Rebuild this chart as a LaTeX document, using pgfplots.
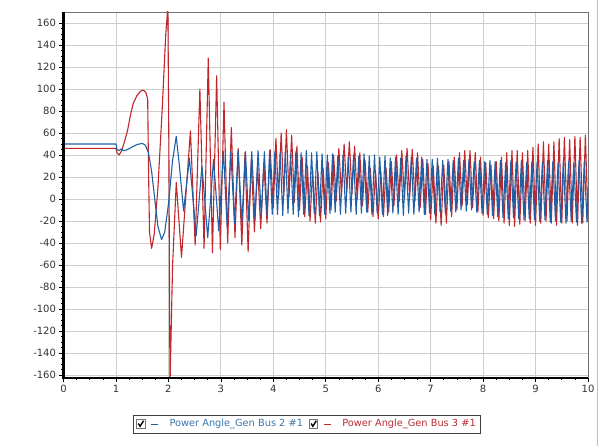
\documentclass[border=0pt]{standalone}
\usepackage{pgfplots}
\pgfplotsset{compat=1.18}
\usepackage{fontspec}
\setmainfont{DejaVu Sans}
\definecolor{bl}{RGB}{31,95,165}
\definecolor{rd}{RGB}{192,38,42}
\definecolor{bltxt}{RGB}{60,118,175}
\definecolor{rdtxt}{RGB}{185,45,50}
\definecolor{gridc}{RGB}{205,205,205}
\begin{document}
\begin{tikzpicture}
\path[use as bounding box] (-63.5pt,-68.3pt) rectangle (541.5pt,377.7pt);
\begin{axis}[
 at={(0,0)}, anchor=south west,
 scale only axis, width=524.5pt, height=365.7pt,
 xmin=0, xmax=10, ymin=-162.5, ymax=170,
 xtick={0,1,...,10}, ytick={-160,-140,...,160},
 minor x tick num=3, minor y tick num=3,
 grid=major, major grid style={gridc, line width=0.8pt},
 axis line style={black!55, line width=0.8pt},
 tick align=outside, major tick length=4pt, minor tick length=2.2pt,
 tick style={black, line width=0.6pt},
 xtick pos=left, ytick pos=left,
 ticklabel style={font=\fontsize{10}{11}\selectfont, color=black!80},
 /pgf/number format/assume math mode=true,
 legend columns=2,
 legend cell align=left,
 legend style={at={(0.4643,-0.1265)}, anchor=center, draw=black!75, line width=0.8pt, fill=white,
   font=\fontsize{9.8}{11}\selectfont, inner xsep=3pt, inner ysep=2.5pt,
   /tikz/every even column/.append style={column sep=4pt}},
 legend image code/.code={
   \path[draw=none, fill=none] (0pt,-4.5pt) rectangle (31pt,4.5pt);
   \draw[black!55, line width=0.6pt, fill=white] (0pt,-4.2pt) rectangle (8.4pt,4.2pt);
   \draw[black, line width=1.4pt] (1.8pt,0.4pt) -- (3.5pt,-2.3pt) -- (7pt,3.2pt);
   \draw[#1, line width=0.8pt] (14.5pt,0pt) -- (21.5pt,0pt);
 },
]
\addlegendimage{bl}
\addlegendentry{\textcolor{bltxt}{Power Angle\_Gen Bus 2 \#1}}
\addlegendimage{rd}
\addlegendentry{\textcolor{rdtxt}{Power Angle\_Gen Bus 3 \#1}}

% Power Angle_Gen Bus 3 #1
\addplot[rd, line width=1.1pt, line join=round, forget plot] coordinates {
(0,46) (1.0,46) (1.02,42) (1.06,40) (1.1,43) (1.15,50) (1.22,62) (1.28,77) (1.33,87)
(1.4,94) (1.47,98) (1.52,99) (1.57,97) (1.605,91) (1.62,30) (1.64,-30) (1.68,-45)
(1.73,-32) (1.8,10) (1.88,80) (1.95,150) (1.99,175) (2.01,40) (2.03,-170) (2.08,-60)
(2.15,15) (2.25,-53) (2.42,62) (2.51,-42) (2.6,100) (2.68,-45) (2.76,128) (2.84,-49)
(2.92,112) (2.99,-46) (3.06,88) (3.13,-40) (3.2,65) (3.27,-35) (3.33,46) (3.4,-42)
(3.46,42) (3.52,-48) (3.58,36) (3.64,-30) (3.7,30) (3.76,-27) (3.82,33) (3.88,-22)
(3.94,45) (4.0,-8) (4.05,55) (4.1,0) (4.15,60) (4.2,3) (4.25,63) (4.3,2) (4.35,58)
(4.4,-3) (4.45,48) (4.5,-10) (4.55,38) (4.6,-16) (4.65,30) (4.7,-20) (4.75,27)
(4.8,-22) (4.85,25) (4.9,-21) (4.95,28) (5.0,-18) (5.05,33) (5.1,-10) (5.15,40)
(5.2,-2) (5.25,46) (5.3,3) (5.35,50) (5.4,6) (5.45,52) (5.5,5) (5.55,48) (5.6,0)
(5.65,42) (5.7,-6) (5.75,35) (5.8,-12) (5.85,28) (5.9,-16) (5.95,25) (6.0,-18)
(6.05,25) (6.1,-16) (6.15,28) (6.2,-12) (6.25,34) (6.3,-6) (6.35,40) (6.4,-2)
(6.45,44) (6.5,0) (6.55,46) (6.6,2) (6.65,45) (6.7,-2) (6.75,42) (6.8,-8) (6.85,36)
(6.9,-14) (6.95,32) (7.0,-19) (7.05,30) (7.1,-22) (7.15,30) (7.2,-24) (7.25,31)
(7.3,-22) (7.35,34) (7.4,-16) (7.45,38) (7.5,-10) (7.55,42) (7.6,-6) (7.65,44)
(7.7,-5) (7.75,44) (7.8,-8) (7.85,42) (7.9,-12) (7.95,38) (8.0,-15) (8.05,33)
(8.1,-17) (8.15,31) (8.2,-18) (8.25,34) (8.3,-20) (8.35,38) (8.4,-22) (8.45,42)
(8.5,-24) (8.55,44) (8.6,-25) (8.65,44) (8.7,-23) (8.75,42) (8.8,-20) (8.85,44)
(8.9,-22) (8.95,47) (9.0,-24) (9.05,50) (9.1,-22) (9.15,52) (9.2,-20) (9.25,50)
(9.3,-22) (9.35,52) (9.4,-24) (9.45,55) (9.5,-22) (9.55,56) (9.6,-20) (9.65,54)
(9.7,-22) (9.75,57) (9.8,-24) (9.85,56) (9.9,-22) (9.95,58) (10.0,-20)
};

% Power Angle_Gen Bus 2 #1
\addplot[bl, line width=1.1pt, line join=round, forget plot] coordinates {
(0,50) (1.0,50) (1.02,45) (1.06,44) (1.1,45.5) (1.14,44) (1.2,44.5) (1.3,47) (1.4,49.5)
(1.5,50.5) (1.56,49) (1.62,42) (1.68,25) (1.74,0) (1.8,-25) (1.87,-37) (1.93,-30)
(2.0,-5) (2.08,35) (2.15,57) (2.21,30) (2.29,-11) (2.4,37) (2.53,-33) (2.64,30)
(2.75,-35) (2.86,36) (2.96,-29) (3.05,43) (3.12,-25) (3.19,43) (3.26,-22) (3.33,44)
(3.4,-22) (3.47,43) (3.53,-20) (3.59,43) (3.65,-18) (3.71,44) (3.77,-16) (3.83,43)
(3.88,-15) (3.93,44) (3.98,-14)
(4.03,43) (4.08,-14) (4.13,42) (4.18,-15) (4.23,44) (4.28,-13) (4.33,41) (4.38,-14)
(4.43,43) (4.48,-16) (4.53,42) (4.58,-14) (4.63,44) (4.68,-15) (4.73,42) (4.78,-13)
(4.83,43) (4.88,-15) (4.93,41) (4.98,-14) (5.03,40) (5.08,-13) (5.13,41) (5.18,-12)
(5.23,39) (5.28,-14) (5.33,40) (5.38,-13) (5.43,38) (5.48,-12) (5.53,40) (5.58,-14)
(5.63,39) (5.68,-13) (5.73,41) (5.78,-12) (5.83,39) (5.88,-14) (5.93,40) (5.98,-13)
(6.03,38) (6.08,-14) (6.13,39) (6.18,-15) (6.23,37) (6.28,-13) (6.33,38) (6.38,-14)
(6.43,37) (6.48,-15) (6.53,39) (6.58,-13) (6.63,38) (6.68,-14) (6.73,37) (6.78,-12)
(6.83,38) (6.88,-14) (6.93,36) (6.98,-13) (7.03,36) (7.08,-14) (7.13,37) (7.18,-12)
(7.23,35) (7.28,-13) (7.33,36) (7.38,-11) (7.43,35) (7.48,-12) (7.53,37) (7.58,-10)
(7.63,35) (7.68,-11) (7.73,36) (7.78,-10) (7.83,34) (7.88,-12) (7.93,35) (7.98,-13)
(8.03,34) (8.08,-14) (8.13,35) (8.18,-15) (8.23,34) (8.28,-16) (8.33,35) (8.38,-17)
(8.43,33) (8.48,-18) (8.53,35) (8.58,-17) (8.63,34) (8.68,-18) (8.73,35) (8.78,-19)
(8.83,33) (8.88,-18) (8.93,34) (8.98,-19) (9.03,34) (9.08,-20) (9.13,33) (9.18,-19)
(9.23,35) (9.28,-21) (9.33,34) (9.38,-20) (9.43,33) (9.48,-21) (9.53,35) (9.58,-22)
(9.63,34) (9.68,-20) (9.73,33) (9.78,-21) (9.83,35) (9.88,-22) (9.93,34) (9.98,-21)
(10.0,10)
};
\end{axis}
\draw[black, line width=2.6pt] (0pt,-1pt) -- (0pt,365.7pt);
\draw[black, line width=2pt] (-1.3pt,0pt) -- (524.5pt,0pt);
\draw[black!25, line width=0.8pt] (534pt,-68.3pt) -- (534pt,377.7pt);
\end{tikzpicture}
\end{document}
